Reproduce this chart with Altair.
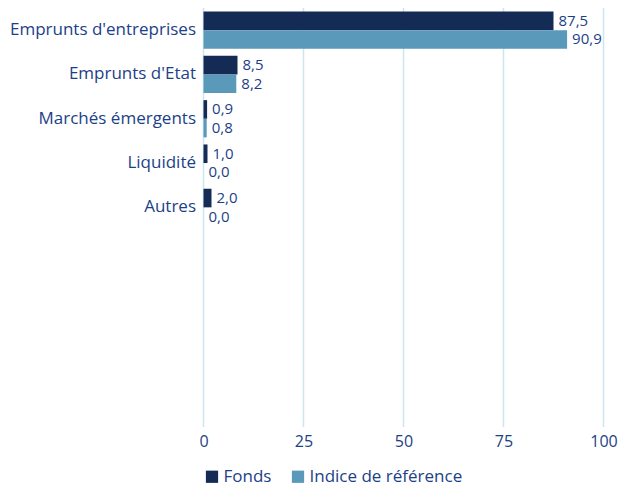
import altair as alt
import pandas as pd

categories = ["Emprunts d'entreprises", "Emprunts d'Etat", "Marchés émergents", "Liquidité", "Autres"]
fonds = [87.5, 8.5, 0.9, 1.0, 2.0]
indice = [90.9, 8.2, 0.8, 0.0, 0.0]
series = ["Fonds", "Indice de référence"]
colors = ["#142c55", "#5b99ba"]
x_ticks = [0, 25, 50, 75, 100]

rows = []
for c, f, i in zip(categories, fonds, indice):
    rows.append({"cat": c, "serie": series[0], "v": f})
    rows.append({"cat": c, "serie": series[1], "v": i})
df = pd.DataFrame(rows)
grid_df = pd.DataFrame({"v": x_ticks})

TEXT = "#1c3f87"
FONT = "Open Sans"

xscale = alt.Scale(domain=[0, 100], nice=False)
xaxis = alt.Axis(values=x_ticks, title=None, ticks=False, domain=False, grid=False,
                 labelFontSize=16, labelColor=TEXT, labelPadding=6, labelFont=FONT,
                 labelFlush=False)

y = alt.Y(
    "cat:N",
    sort=categories,
    scale=alt.Scale(domain=categories, range=[0, 221.5], paddingInner=0.16, paddingOuter=0.08),
    axis=alt.Axis(title=None, ticks=False, domain=False, labelPadding=8, labelFontSize=17,
                  labelColor=TEXT, labelFont=FONT, grid=False, labelLimit=300),
)
yoff = alt.YOffset("serie:N", sort=series, scale=alt.Scale(domain=series, paddingInner=0, paddingOuter=0))

grid = alt.Chart(grid_df).mark_rule(color="#cce5ef", strokeWidth=1.5).encode(
    x=alt.X("v:Q", scale=xscale, axis=xaxis),
    y=alt.value(0),
    y2=alt.value(419),
)

base = alt.Chart(df).transform_calculate(
    lbl="replace(format(datum.v, '.1f'), '.', ',')"
)

bars = base.mark_bar().encode(
    x=alt.X("v:Q", scale=xscale, axis=xaxis),
    y=y,
    yOffset=yoff,
    color=alt.Color(
        "serie:N",
        sort=series,
        scale=alt.Scale(domain=series, range=colors),
        legend=alt.Legend(title=None, orient="none", legendX=0, legendY=460, direction="horizontal",
                          symbolType="square", symbolSize=150, symbolStrokeWidth=0,
                          labelFontSize=17, labelColor=TEXT, labelFont=FONT, labelOffset=3,
                          columnPadding=18),
    ),
)

labels = base.mark_text(align="left", baseline="middle", dx=5, fontSize=15, color=TEXT, font=FONT).encode(
    x=alt.X("v:Q"),
    y=alt.Y("cat:N", sort=categories),
    yOffset=alt.YOffset("serie:N", sort=series),
    text="lbl:N",
)

chart = (
    alt.layer(grid, bars, labels)
    .properties(width=400, height=419, autosize=alt.AutoSizeParams(type="none"),
                padding={"left": 195.5, "top": 0, "right": 20, "bottom": 61})
    .configure_view(stroke=None)
)

chart.save("out.html", embed_options={"renderer": "svg", "actions": False})
